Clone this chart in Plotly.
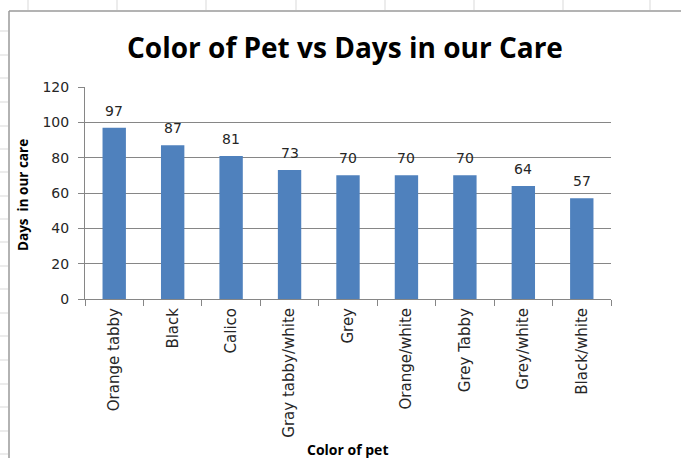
import plotly.graph_objects as go

categories = ["Orange tabby", "Black", "Calico", "Gray tabby/white", "Grey",
              "Orange/white", "Grey Tabby", "Grey/white", "Black/white"]
days = [97, 87, 81, 73, 70, 70, 70, 64, 57]

title_text = "Color of Pet vs Days in our Care"
x_title = "Color of pet"
y_title = "Days  in our care"

W, H = 681, 458
L, R, T, B = 85, 70, 87, 159
PW, PH = W - L - R, H - T - B

def px(x):
    return (x - L) / PW

def py(y):
    return (H - B - y) / PH

AXIS = "#868686"
FONT = "Open Sans"
NUMFONT = "DejaVu Sans"

fig = go.Figure()
fig.add_trace(go.Bar(
    x=categories, y=days, marker=dict(color="#4F81BD", line=dict(width=0)),
    hoverinfo="skip", showlegend=False,
))

annotations = []
for c, v in zip(categories, days):
    annotations.append(dict(x=c, y=v, xref="x", yref="y", text=str(v),
                            showarrow=False, yanchor="bottom", yshift=7,
                            font=dict(family=NUMFONT, size=14, color="#262626")))

annotations.append(dict(x=px(345), y=py(47), xref="paper", yref="paper",
                        text="<b>" + title_text + "</b>", showarrow=False,
                        xanchor="center", yanchor="middle",
                        font=dict(family=FONT, size=28, color="#000000")))
annotations.append(dict(x=px(347), y=py(449), xref="paper", yref="paper",
                        text="<b>" + x_title + "</b>", showarrow=False,
                        xanchor="center", yanchor="middle",
                        font=dict(family=FONT, size=14, color="#000000")))
annotations.append(dict(x=px(23), y=py(195), xref="paper", yref="paper",
                        text="<b>" + y_title + "</b>", showarrow=False, textangle=-90,
                        xanchor="center", yanchor="middle",
                        font=dict(family=FONT, size=13.5, color="#000000")))

shapes = []
GRID = "#d9d9d9"
for gx in [28, 117, 206, 296, 385, 474, 563, 650]:
    shapes.append(dict(type="line", xref="paper", yref="paper",
                       x0=px(gx), x1=px(gx), y0=py(0), y1=py(10),
                       line=dict(color=GRID, width=1)))
for gy in [31, 55, 78, 102, 126, 149, 172, 196, 219, 242, 266, 289, 313,
           336, 360, 384, 407, 431, 454]:
    shapes.append(dict(type="line", xref="paper", yref="paper",
                       x0=px(0), x1=px(8), y0=py(gy), y1=py(gy),
                       line=dict(color=GRID, width=1)))
# chart border
shapes.append(dict(type="line", xref="paper", yref="paper",
                   x0=px(9), x1=px(9), y0=py(11), y1=py(460),
                   line=dict(color="#9a9a9a", width=1.5)))
shapes.append(dict(type="line", xref="paper", yref="paper",
                   x0=px(9), x1=px(685), y0=py(11), y1=py(11),
                   line=dict(color="#9a9a9a", width=1.5)))

fig.update_layout(
    width=W, height=H,
    margin=dict(l=L, r=R, t=T, b=B, autoexpand=False),
    paper_bgcolor="white", plot_bgcolor="white",
    bargap=0.6,
    showlegend=False,
    annotations=annotations,
    shapes=shapes,
    font=dict(family=FONT, color="#262626"),
)
fig.update_xaxes(
    type="category", showline=True, linecolor=AXIS, linewidth=1,
    ticks="outside", tickson="boundaries", ticklen=6, tickcolor=AXIS,
    tickangle=-90, tickfont=dict(family=NUMFONT, size=15, color="#262626"),
    ticklabelstandoff=2,
    showgrid=False, automargin=False, fixedrange=True,
)
fig.update_yaxes(
    range=[0, 120], dtick=20, tick0=0, showgrid=True, gridcolor=AXIS, gridwidth=1,
    showline=True, linecolor=AXIS, linewidth=1, ticks="outside", ticklen=6,
    tickcolor=AXIS, tickfont=dict(family=NUMFONT, size=14, color="#262626"),
    ticklabelstandoff=6,
    zeroline=False, automargin=False, fixedrange=True,
)

fig.write_html("out.html", config={"displayModeBar": False},
               post_script="document.body.style.margin='0';document.body.style.overflow='hidden';")
